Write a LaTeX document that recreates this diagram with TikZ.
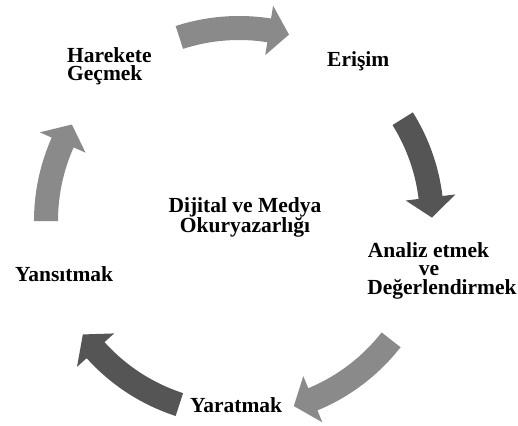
\documentclass[tikz,border=0pt]{standalone}
\usepackage{fontspec}
\setmainfont{Liberation Serif}
\definecolor{lightarrow}{HTML}{8A8A8A}
\definecolor{darkarrow}{HTML}{555555}
\newcommand\cycarrow[3]{%
  \pgfmathsetmacro\hb{#3+6}%
  \fill[#1] (#2:205) arc[start angle=#2, end angle=\hb, radius=205]
    -- (\hb:218) -- (#3:193) -- (\hb:168) -- (\hb:181)
    arc[start angle=\hb, end angle=#2, radius=181] -- cycle;}
\tikzset{
  lbl/.style={font=\bfseries\fontsize{21.5}{18}\selectfont, inner sep=0pt, text=black}
}
\begin{document}
\begin{tikzpicture}[x=1pt,y=1pt]
\useasboundingbox[fill=white] (0,0) rectangle (518,-425);
\begin{scope}[shift={(239,-221)}]
  \cycarrow{lightarrow}{108}{75}
  \cycarrow{darkarrow}{32}{1}
  \cycarrow{lightarrow}{-38}{-73.5}
  \cycarrow{darkarrow}{-108}{-144}
  \cycarrow{lightarrow}{180}{150}
\end{scope}
\node[lbl, align=left, anchor=north west] (harekete) at (67,-47) {Harekete\\Geçmek};
\node[lbl, anchor=base west] (erisim) at (327,-67) {Erişim};
\node[lbl, align=center, anchor=north] (center) at (245,-197) {Dijital ve Medya\\Okuryazarlığı};
\node[lbl, align=center, anchor=north, font=\bfseries\fontsize{21.5}{18.5}\selectfont] (analiz) at (442,-242) {Analiz etmek\rule{27pt}{0pt}\\ve\rule{26pt}{0pt}\\Değerlendirmek};
\node[lbl, anchor=base west] (yansitmak) at (15,-281) {Yansıtmak};
\node[lbl, anchor=base west] (yaratmak) at (190,-412) {Yaratmak};
\end{tikzpicture}
\end{document}
